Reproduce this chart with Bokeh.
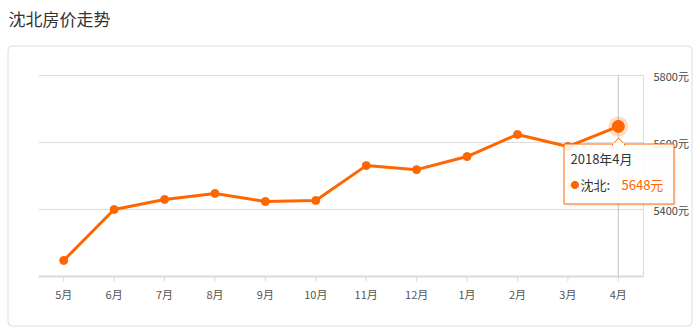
import math
from bokeh.plotting import figure
from bokeh.models import Range1d, Label, BoxAnnotation, PolyAnnotation, ColumnDataSource
from bokeh.core.properties import value
from bokeh.embed import file_html
from bokeh.resources import INLINE

months = ["5月", "6月", "7月", "8月", "9月", "10月", "11月", "12月", "1月", "2月", "3月", "4月"]
prices = [5248, 5400, 5430, 5448, 5424, 5427, 5531, 5519, 5558, 5624, 5588, 5648]
y_ticks = [5400, 5600, 5800]
y_min, y_max = 5200, 5800
title_text = "沈北房价走势"
series_name = "沈北"
tooltip_title = "2018年4月"

ORANGE = "#ff6600"
FONT = "Noto Sans CJK SC"
W, H = 700, 332
# plot area (pixels on the page)
PL, PR, PT, PB = 38, 643, 75, 276

n = len(months)
xs = list(range(n))
x_lo, x_hi = -0.5, n - 0.5
ppx = (PR - PL) / (x_hi - x_lo)
ppy = (PB - PT) / (y_max - y_min)
x_range = Range1d(x_lo - PL / ppx, x_hi + (W - PR) / ppx)
y_range = Range1d(y_min - (H - PB) / ppy, y_max + PT / ppy)

p = figure(width=W, height=H, x_range=x_range, y_range=y_range,
           output_backend="svg", toolbar_location=None,
           x_axis_location=None, y_axis_location=None,
           min_border=0, min_border_left=0, min_border_right=0, min_border_top=0, min_border_bottom=0)
p.title.visible = False
p.outline_line_color = None
p.xgrid.visible = False
p.ygrid.visible = False
p.background_fill_color = "white"
p.border_fill_color = "white"

def sy(canvas_y):
    return H - canvas_y

def sbox(l, r, t, b, **kw):
    return BoxAnnotation(left=l, right=r, top=sy(t), bottom=sy(b),
                         left_units="screen", right_units="screen", top_units="screen", bottom_units="screen", **kw)

# card + title
p.add_layout(sbox(7.5, 691.5, 45.5, 325.5, fill_color=None, fill_alpha=0, line_color="#dddddd", line_alpha=1,
                  line_width=1, border_radius=4, level="underlay"))
p.add_layout(Label(x=8, y=sy(18), x_units="screen", y_units="screen", text=title_text,
                   text_font=FONT, text_font_size="17px", text_color="#333333", text_baseline="middle"))

# horizontal grid lines
p.segment(x0=[x_lo] * len(y_ticks), y0=y_ticks, x1=[x_hi] * len(y_ticks), y1=y_ticks,
          line_color="#dddddd", line_width=1)
# right axis line
p.segment(x0=[x_hi], y0=[y_min], x1=[x_hi], y1=[y_max], line_color="#dddddd", line_width=1)
# bottom axis line
p.segment(x0=[x_lo], y0=[y_min], x1=[x_hi], y1=[y_min], line_color="#d9d9d9", line_width=2)
# x ticks
p.ray(x=xs, y=[y_min] * n, length=5, length_units="screen", angle=-math.pi / 2,
      line_color="#d9d9d9", line_width=1)
# x tick labels
p.text(x=xs, y=[y_min] * n, text=months, y_offset=17, text_align="center", text_baseline="middle",
       text_font=value(FONT), text_font_size="11px", text_color="#555555")
# y tick labels
p.text(x=[x_hi] * len(y_ticks), y=y_ticks, text=[f"{t}元" for t in y_ticks], x_offset=10,
       text_align="left", text_baseline="middle",
       text_font=value(FONT), text_font_size="11px", text_color="#444444")

src = ColumnDataSource(dict(x=xs, y=prices))
last_i, last_v = xs[-1], prices[-1]

# crosshair
p.segment(x0=[last_i], y0=[y_min], x1=[last_i], y1=[y_max], line_color="#c4c4c4", line_width=1)

p.line("x", "y", source=src, line_color=ORANGE, line_width=3)
p.scatter("x", "y", source=src, size=8, fill_color=ORANGE, line_color=ORANGE)
p.scatter([last_i], [last_v], size=20, fill_color=ORANGE, fill_alpha=0.22, line_color=None)
p.scatter([last_i], [last_v], size=12, fill_color=ORANGE, line_color=ORANGE)

# tooltip
p.add_layout(sbox(566, 676, 146, 206, fill_color="#000000", fill_alpha=0.06, line_color=None, border_radius=3))
p.add_layout(sbox(563.5, 673.5, 143.5, 203.5, fill_color="white", fill_alpha=0.88, line_color=ORANGE,
                  line_alpha=1, line_width=1))
p.add_layout(PolyAnnotation(xs=[611.5, 618, 624.5], ys=[sy(144.5), sy(137.5), sy(144.5)],
                            xs_units="screen", ys_units="screen",
                            fill_color="white", fill_alpha=1, line_color=ORANGE, line_alpha=1, line_width=1))
p.add_layout(sbox(612.5, 623.5, 142.5, 146, fill_color="white", fill_alpha=1, line_color=None))
p.add_layout(Label(x=570, y=sy(158), x_units="screen", y_units="screen", text=tooltip_title,
                   text_font=FONT, text_font_size="13px", text_color="#333333", text_baseline="middle"))
p.add_layout(Label(x=570, y=sy(184), x_units="screen", y_units="screen", text="●",
                   text_font=FONT, text_font_size="9px", text_color=ORANGE, text_baseline="middle"))
p.add_layout(Label(x=580, y=sy(184), x_units="screen", y_units="screen", text=f"{series_name}:",
                   text_font=FONT, text_font_size="13px", text_color="#333333", text_baseline="middle"))
p.add_layout(Label(x=621, y=sy(184), x_units="screen", y_units="screen", text=f"{last_v}元",
                   text_font=FONT, text_font_size="13px", text_color=ORANGE, text_baseline="middle"))

open("out.html", "w").write(file_html(p, INLINE))
